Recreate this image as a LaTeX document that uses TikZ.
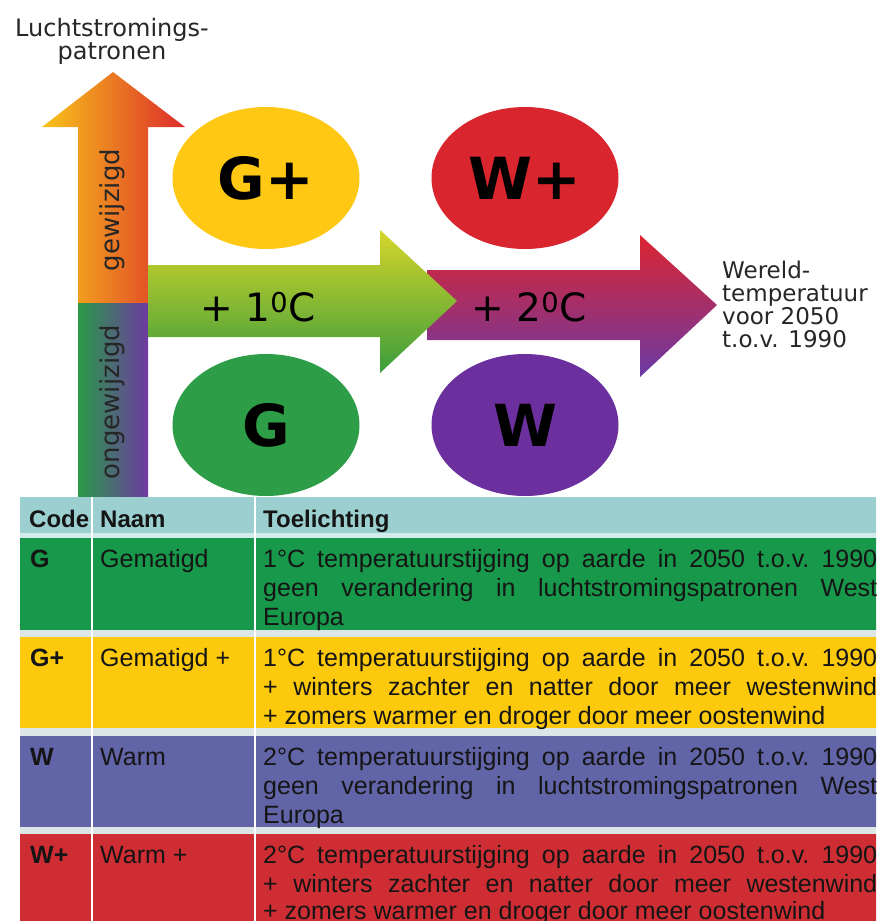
\documentclass[tikz,border=0pt]{standalone}
\usepackage{fontspec}
\setmainfont{Liberation Sans}
\newfontfamily\dv{DejaVu Sans}
\usetikzlibrary{shapes.geometric}
\definecolor{vYel}{HTML}{F8C41B}
\definecolor{vOra}{HTML}{F29029}
\definecolor{vRed}{HTML}{DC2C2B}
\definecolor{bGreen}{HTML}{2A9A48}
\definecolor{bBlue}{HTML}{3D6CA6}
\definecolor{bPurple}{HTML}{6E3AA2}
\definecolor{gTop}{HTML}{D6D62A}
\definecolor{gMid}{HTML}{98C83B}
\definecolor{gBot}{HTML}{3A9C3C}
\definecolor{rTop}{HTML}{DC2430}
\definecolor{rMid}{HTML}{A6286A}
\definecolor{rBot}{HTML}{6A3AA4}
\definecolor{ellYellow}{HTML}{FFC815}
\definecolor{ellRed}{HTML}{D9252E}
\definecolor{ellGreen}{HTML}{2E9D47}
\definecolor{ellPurple}{HTML}{6B309E}
\definecolor{hdr}{HTML}{9CCFCF}
\definecolor{hdrStrip}{HTML}{D3EBEA}
\definecolor{rowG}{HTML}{18984A}
\definecolor{rowGp}{HTML}{FDC90C}
\definecolor{rowW}{HTML}{6264A8}
\definecolor{rowWp}{HTML}{CE2E33}
\definecolor{sepc}{HTML}{DCE6E6}
\definecolor{ink}{HTML}{151515}
\newcommand\jl[1]{\hbox to 614pt{\frenchspacing\spaceskip=7pt plus 1fil\relax #1}}
\tikzset{
  ell/.style={ellipse, minimum width=187pt, minimum height=142pt, inner sep=0pt,
    font=\dv\bfseries\fontsize{58}{58}\selectfont, text=black},
  tx/.style={inner sep=0pt, anchor=base west, text=ink, font=\fontsize{25}{29}\selectfont},
  hd/.style={inner sep=0pt, anchor=base west, text=ink, font=\bfseries\fontsize{24}{29}\selectfont},
  lbl/.style={inner sep=0pt, text=black!85, font=\dv\fontsize{24}{19}\selectfont},
  wl/.style={inner sep=0pt, anchor=base west, text=black!85, font=\dv\fontsize{23}{23}\selectfont},
  rot/.style={inner sep=0pt, rotate=90, text=black!85, font=\dv\fontsize{26}{26}\selectfont},
  deg/.style={inner sep=0pt, text=black, font=\dv\fontsize{39}{39}\selectfont}
}
\begin{document}
\begin{tikzpicture}[x=1pt,y=-1pt]
\useasboundingbox (0,0) rectangle (876,921);
\clip (0,0) rectangle (876,921);
\fill[white] (0,0) rectangle (876,921);

% vertical arrow
\shade[left color=vYel, middle color=vOra, right color=vRed]
  (78,304) -- (78,127) -- (42,127) -- (113,72) -- (185,127) -- (148,127) -- (148,304) -- cycle;
\shade[left color=bGreen, middle color=bBlue, right color=bPurple]
  (78,303) rectangle (148,498);

% red/purple arrow (behind)
\shade[top color=rTop, middle color=rMid, bottom color=rBot]
  (427,270) -- (640,270) -- (640,235) -- (717,305) -- (640,377) -- (640,340) -- (427,340) -- cycle;
% green arrow
\shade[top color=gTop, middle color=gMid, bottom color=gBot]
  (148,265) -- (380,265) -- (380,230) -- (457,301) -- (380,373) -- (380,337) -- (148,337) -- cycle;

% ellipses
\node[ell, fill=ellYellow] (Gp) at (266,178) {G+};
\node[ell, fill=ellRed]    (Wp) at (525,178) {W+};
\node[ell, fill=ellGreen]  (G)  at (266,425) {G};
\node[ell, fill=ellPurple] (W)  at (525,425) {W};

% labels
\node[lbl, anchor=base] (l1) at (112,36) {Luchtstromings-};
\node[lbl, anchor=base] (l2) at (112,59) {patronen};
\node[rot] (gew) at (112,210) {gewijzigd};
\node[rot] (ongew) at (112,402) {ongewijzigd};
\node[deg] (one) at (258,307) {+ 1\textsuperscript{0}C};
\node[deg] (two) at (529,307) {+ 2\textsuperscript{0}C};
\node[wl] (w1) at (722,278) {Wereld-};
\node[wl] (w2) at (722,301) {temperatuur};
\node[wl] (w3) at (722,324) {voor 2050};
\node[wl] (w4) at (722,347) {t.o.v. 1990};

% table
\fill[hdr] (20,497) rectangle (880,533);
\fill[hdrStrip] (20,533) rectangle (880,538);
\fill[rowG] (20,538) rectangle (880,630);
\fill[sepc] (20,630) rectangle (880,637);
\fill[rowGp] (20,637) rectangle (880,728);
\fill[sepc] (20,728) rectangle (880,736);
\fill[rowW] (20,736) rectangle (880,827);
\fill[sepc] (20,827) rectangle (880,834);
\fill[rowWp] (20,834) rectangle (880,925);
\draw[white, line width=2pt] (92,497) -- (92,925);
\draw[white, line width=2pt] (255,497) -- (255,925);

\node[hd] (h1) at (29,527) {Code};
\node[hd] (h2) at (100,527) {Naam};
\node[hd] (h3) at (263,527) {Toelichting};

\node[tx] (c1) at (30,567) {\bfseries G};
\node[tx] (n1) at (100,567) {Gematigd};
\node[tx] (t11) at (263,567) {\jl{1°C temperatuurstijging op aarde in 2050 t.o.v. 1990}};
\node[tx] (t12) at (263,596) {\jl{geen verandering in luchtstromingspatronen West}};
\node[tx] (t13) at (263,625) {Europa};

\node[tx] (c2) at (30,666) {\bfseries G+};
\node[tx] (n2) at (100,666) {Gematigd +};
\node[tx] (t21) at (263,666) {\jl{1°C temperatuurstijging op aarde in 2050 t.o.v. 1990}};
\node[tx] (t22) at (263,695) {\jl{+ winters zachter en natter door meer westenwind}};
\node[tx] (t23) at (263,724) {+ zomers warmer en droger door meer oostenwind};

\node[tx] (c3) at (30,765) {\bfseries W};
\node[tx] (n3) at (100,765) {Warm};
\node[tx] (t31) at (263,765) {\jl{2°C temperatuurstijging op aarde in 2050 t.o.v. 1990}};
\node[tx] (t32) at (263,794) {\jl{geen verandering in luchtstromingspatronen West}};
\node[tx] (t33) at (263,823) {Europa};

\node[tx] (c4) at (30,863) {\bfseries W+};
\node[tx] (n4) at (100,863) {Warm +};
\node[tx] (t41) at (263,863) {\jl{2°C temperatuurstijging op aarde in 2050 t.o.v. 1990}};
\node[tx] (t42) at (263,892) {\jl{+ winters zachter en natter door meer westenwind}};
\node[tx] (t43) at (263,919) {+ zomers warmer en droger door meer oostenwind};
\end{tikzpicture}
\end{document}
